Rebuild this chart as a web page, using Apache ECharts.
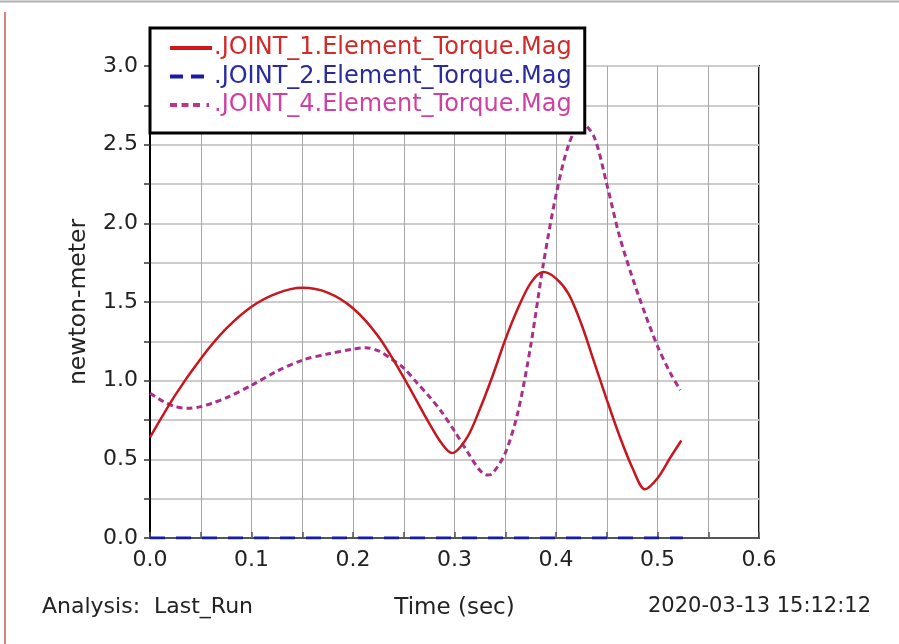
<!DOCTYPE html>
<html>
<head>
<meta charset="utf-8">
<script src="https://cdn.jsdelivr.net/npm/echarts@6/dist/echarts.min.js"></script>
<style>
html,body{margin:0;padding:0;background:#fff;}
#c{width:899px;height:644px;}
</style>
</head>
<body>
<div id="c"></div>
<script>
// ---- data ----
const seriesNames = ['.JOINT_1.Element_Torque.Mag', '.JOINT_2.Element_Torque.Mag', '.JOINT_4.Element_Torque.Mag'];

const timeJ1 = [0, 0.025, 0.05, 0.075, 0.1, 0.125, 0.15, 0.175, 0.2, 0.225, 0.25, 0.275, 0.2875, 0.2975, 0.3125, 0.325, 0.3375, 0.35, 0.3625, 0.375, 0.3875, 0.4, 0.4125, 0.425, 0.4375, 0.45, 0.4625, 0.475, 0.4875, 0.5, 0.5125, 0.5235];
const torqueJ1 = [0.64, 0.91, 1.14, 1.33, 1.47, 1.555, 1.59, 1.56, 1.46, 1.28, 1.02, 0.73, 0.60, 0.54, 0.64, 0.82, 1.03, 1.26, 1.46, 1.62, 1.69, 1.65, 1.55, 1.36, 1.12, 0.88, 0.65, 0.45, 0.31, 0.38, 0.51, 0.62];

const timeJ2 = [0, 0.1, 0.2, 0.3, 0.4, 0.5, 0.525];
const torqueJ2 = [0, 0, 0, 0, 0, 0, 0];

const timeJ4 = [0, 0.0125, 0.025, 0.0375, 0.05, 0.0625, 0.075, 0.1, 0.125, 0.15, 0.175, 0.2, 0.2125, 0.225, 0.2375, 0.25, 0.2625, 0.275, 0.2875, 0.3, 0.3125, 0.325, 0.3325, 0.3375, 0.35, 0.3625, 0.375, 0.3875, 0.4, 0.4125, 0.425, 0.4375, 0.45, 0.4625, 0.475, 0.4875, 0.5, 0.5125, 0.5225];
const torqueJ4 = [0.92, 0.87, 0.835, 0.824, 0.835, 0.86, 0.89, 0.97, 1.06, 1.13, 1.17, 1.20, 1.21, 1.19, 1.14, 1.08, 0.99, 0.90, 0.80, 0.68, 0.55, 0.43, 0.40, 0.41, 0.54, 0.80, 1.22, 1.74, 2.18, 2.50, 2.64, 2.55, 2.25, 1.92, 1.66, 1.43, 1.22, 1.05, 0.94];

const xTicks = [0, 0.1, 0.2, 0.3, 0.4, 0.5, 0.6];
const yTicks = [0, 0.5, 1.0, 1.5, 2.0, 2.5, 3.0];

const lineColors = ['#c8161e', '#1a1aa8', '#a8308a'];
const legendTextColors = ['#d02a2a', '#2a2aa0', '#d040a0'];
const legendIconColors = ['#cc1a1a', '#1a1aa8', '#c03488'];

function zip(xs, ys){ return xs.map((x,i)=>[x, ys[i]]); }

// legend sample glyphs (solid, dashed, dotted); a hair-thin sliver at 42 keeps the width
const SLIVER = ' M41.98,0H42V4H41.98Z';
const legendIcons = [
  'path://M0,0H42V4H0Z',
  'path://M0,0H13V4H0Z M21,0H34V4H21Z' + SLIVER,
  'path://M0,0H7V4H0Z M11.5,0H18.5V4H11.5Z M23,0H30V4H23Z M36.5,0H39V4H36.5Z' + SLIVER
];

const chart = echarts.init(document.getElementById('c'), null, {renderer:'canvas'});
const FONT = '"DejaVu Sans", Verdana, sans-serif';

chart.setOption({
  backgroundColor: '#ffffff',
  animation: false,
  grid: {
    left: 150, right: 140, top: 66, bottom: 106,
    show: true, borderColor: '#1a1a1a', borderWidth: 2, backgroundColor: 'transparent'
  },
  legend: {
    orient: 'vertical',
    left: 150, top: 28,
    backgroundColor: '#fff',
    borderColor: '#000', borderWidth: 3, borderRadius: 0,
    padding: [8, 13, 16, 20],
    itemGap: 4.5,
    itemWidth: 42, itemHeight: 4,
    textStyle: { fontFamily: FONT, fontSize: 24, lineHeight: 24, padding: [0,0,0,-3] },
    data: seriesNames.map((n,i)=>({ name: n, icon: legendIcons[i],
      itemStyle: { color: legendIconColors[i] },
      textStyle: { color: legendTextColors[i] } }))
  },
  xAxis: {
    type: 'value', min: xTicks[0], max: xTicks[xTicks.length-1], interval: 0.1,
    name: 'Time (sec)', nameLocation: 'middle', nameGap: 59,
    nameTextStyle: { fontFamily: FONT, fontSize: 23, color: '#222' },
    axisLine: { show: true, onZero: false, lineStyle: { color: '#555', width: 2 } },
    axisTick: { show: true, inside: true, length: 6, lineStyle: { color: '#555', width: 1.5 } },
    minorTick: { show: true, splitNumber: 2, length: 6, lineStyle: { color: '#555', width: 1.5 } },
    axisLabel: { fontFamily: FONT, fontSize: 22, color: '#222', margin: 11,
      formatter: v => v.toFixed(1) },
    splitLine: { show: true, lineStyle: { color: '#a8a8a8', width: 1 } },
    minorSplitLine: { show: true, lineStyle: { color: '#a8a8a8', width: 1 } }
  },
  yAxis: {
    type: 'value', min: yTicks[0], max: yTicks[yTicks.length-1], interval: 0.5,
    name: 'newton-meter', nameLocation: 'middle', nameGap: 59, nameRotate: 90,
    nameTextStyle: { fontFamily: FONT, fontSize: 23.5, color: '#222' },
    axisLine: { show: true, lineStyle: { color: '#000', width: 2 } },
    axisTick: { show: true, inside: false, length: 6, lineStyle: { color: '#333', width: 1.5 } },
    minorTick: { show: true, splitNumber: 2, length: 6, lineStyle: { color: '#333', width: 1.5 } },
    axisLabel: { fontFamily: FONT, fontSize: 22, color: '#222', margin: 12,
      formatter: v => v.toFixed(1) },
    splitLine: { show: true, lineStyle: { color: '#cccccc', width: 2 } },
    minorSplitLine: { show: true, lineStyle: { color: '#cccccc', width: 2 } }
  },
  series: [
    { name: seriesNames[0], type: 'line', data: zip(timeJ1, torqueJ1), smooth: 0.3, symbol: 'none',
      lineStyle: { color: lineColors[0], width: 2.5, type: 'solid' }, itemStyle: { color: legendIconColors[0] }, z: 3 },
    { name: seriesNames[1], type: 'line', data: zip(timeJ2, torqueJ2), smooth: false, symbol: 'none',
      lineStyle: { color: lineColors[1], width: 3, type: [15, 11] }, itemStyle: { color: legendIconColors[1] }, z: 4 },
    { name: seriesNames[2], type: 'line', data: zip(timeJ4, torqueJ4), smooth: 0.3, symbol: 'none',
      lineStyle: { color: lineColors[2], width: 3, type: [6, 4] }, itemStyle: { color: legendIconColors[2] }, z: 2 }
  ],
  graphic: [
    { type: 'text', left: 42, top: 596, style: { text: 'Analysis:  Last_Run', font: '22px ' + FONT, fill: '#222' } },
    { type: 'text', right: 28, top: 596, style: { text: '2020-03-13 15:12:12', font: '21px ' + FONT, fill: '#222' } },
    { type: 'line', shape: { x1: 5, y1: 12, x2: 5, y2: 644 }, style: { stroke: '#c62828', lineWidth: 1.2 } },
    { type: 'line', shape: { x1: 0, y1: 1.5, x2: 899, y2: 1.5 }, style: { stroke: '#b0b0b0', lineWidth: 2 } }
  ]
});
</script>
</body>
</html>
